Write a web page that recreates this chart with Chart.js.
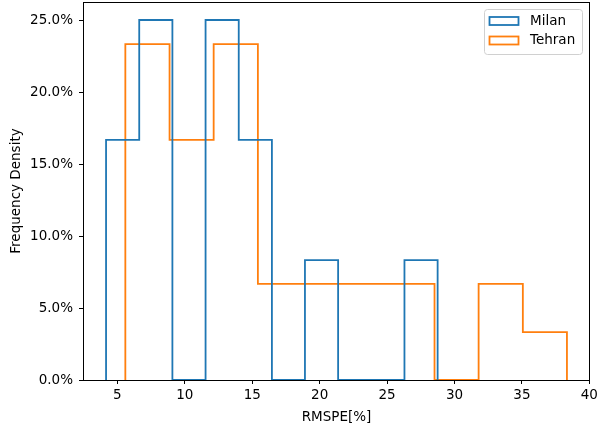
<!DOCTYPE html>
<html>
<head>
<meta charset="utf-8">
<script src="https://cdn.jsdelivr.net/npm/chart.js"></script>
<style>
  html, body { margin: 0; padding: 0; background: #fff; }
  #wrap { width: 599px; height: 429px; }
</style>
</head>
<body>
<div id="wrap"><canvas id="hist"></canvas></div>
<script>
// Histogram bins (edges in RMSPE %, heights as % of samples)
const milanEdges = [4.16, 6.62, 9.08, 11.54, 14.00, 16.46, 18.91, 21.37, 23.83, 26.29, 28.75];
const milanValues = [16.67, 25.0, 0, 25.0, 16.67, 0, 8.33, 0, 0, 8.33];
const tehranEdges = [5.59, 8.87, 12.14, 15.42, 18.69, 21.97, 25.24, 28.52, 31.79, 35.07, 38.34];
const tehranValues = [23.33, 16.67, 23.33, 6.67, 6.67, 6.67, 6.67, 0, 6.67, 3.33];
const xTicks = [5, 10, 15, 20, 25, 30, 35, 40];
const yTicks = [0, 5, 10, 15, 20, 25];

const FONT = 'DejaVu Sans';

// turn edges + heights into an outline like a step histogram
// (stepped 'before': horizontal at the previous height, then vertical)
function stepPoints(edges, values) {
    const pts = [{ x: edges[0], y: 0 }, { x: edges[0], y: values[0] }];
    values.forEach((v, i) => pts.push({ x: edges[i + 1], y: i + 1 < values.length ? values[i + 1] : 0 }));
    return pts;
}

// box around the plot area
const frame = {
    id: 'frame',
    afterDatasetsDraw(chart) {
        const { ctx, chartArea: a } = chart;
        ctx.save();
        ctx.strokeStyle = '#000';
        ctx.lineWidth = 1;
        ctx.strokeRect(Math.round(a.left) + 0.5, Math.round(a.top) + 0.5,
            Math.round(a.right - a.left) - 1, Math.round(a.bottom - a.top));
        ctx.restore();
    }
};

// legend box in the upper right corner
const boxLegend = {
    id: 'boxLegend',
    afterDraw(chart) {
        const { ctx } = chart;
        const x0 = 484, y0 = 9, w = 98, h = 45;
        ctx.save();
        ctx.fillStyle = 'rgba(255,255,255,0.8)';
        ctx.strokeStyle = '#d0d0d0';
        ctx.lineWidth = 1;
        ctx.beginPath();
        ctx.roundRect(x0 + 0.5, y0 + 0.5, w, h, 3);
        ctx.fill();
        ctx.stroke();
        ctx.font = '13.5px ' + FONT;
        ctx.textBaseline = 'middle';
        chart.data.datasets.forEach((ds, i) => {
            const yc = 21 + i * 19.5;
            ctx.strokeStyle = ds.borderColor;
            ctx.lineWidth = 1.8;
            ctx.strokeRect(489.5, yc - 4, 29, 8);
            ctx.fillStyle = '#000';
            ctx.fillText(ds.label, 530, yc);
        });
        ctx.restore();
    }
};

function noPad(s) {
    s.paddingTop = 0; s.paddingBottom = 0; s.paddingLeft = 0; s.paddingRight = 0;
}

new Chart(document.getElementById('hist'), {
    type: 'line',
    data: {
        datasets: [
            {
                label: 'Milan',
                data: stepPoints(milanEdges, milanValues),
                borderColor: '#1f77b4',
                borderWidth: 1.8,
                stepped: 'before',
                pointRadius: 0,
                fill: false
            },
            {
                label: 'Tehran',
                data: stepPoints(tehranEdges, tehranValues),
                borderColor: '#ff7f0e',
                borderWidth: 1.8,
                stepped: 'before',
                pointRadius: 0,
                fill: false
            }
        ]
    },
    options: {
        responsive: true,
        maintainAspectRatio: false,
        animation: false,
        layout: { padding: { top: 2, right: 9, left: 0, bottom: 0 } },
        plugins: {
            legend: { display: false },
            tooltip: { enabled: false }
        },
        scales: {
            x: {
                type: 'linear',
                min: 2.45,
                max: 40.05,
                afterBuildTicks: s => { s.ticks = xTicks.map(v => ({ value: v })); },
                afterFit: s => { s.height = 49; noPad(s); },
                grid: { drawOnChartArea: false, drawTicks: true, tickLength: 4, color: '#000' },
                border: { display: false },
                ticks: { color: '#000', padding: 3, maxRotation: 0, font: { family: FONT, size: 13.5 } },
                title: { display: true, text: 'RMSPE[%]', color: '#000', padding: { top: 1, bottom: 3 }, font: { family: FONT, size: 13.5 } }
            },
            y: {
                min: 0,
                max: 26.25,
                afterBuildTicks: s => { s.ticks = yTicks.map(v => ({ value: v })); },
                afterFit: s => { s.width = 83; noPad(s); },
                grid: { drawOnChartArea: false, drawTicks: true, tickLength: 4, color: '#000' },
                border: { display: false },
                ticks: { color: '#000', padding: 6, font: { family: FONT, size: 13.5 }, callback: v => v.toFixed(1) + '%' },
                title: { display: true, text: 'Frequency Density', color: '#000', padding: { top: 8, bottom: 0 }, font: { family: FONT, size: 13.5 } }
            }
        }
    },
    plugins: [frame, boxLegend]
});
</script>
</body>
</html>
